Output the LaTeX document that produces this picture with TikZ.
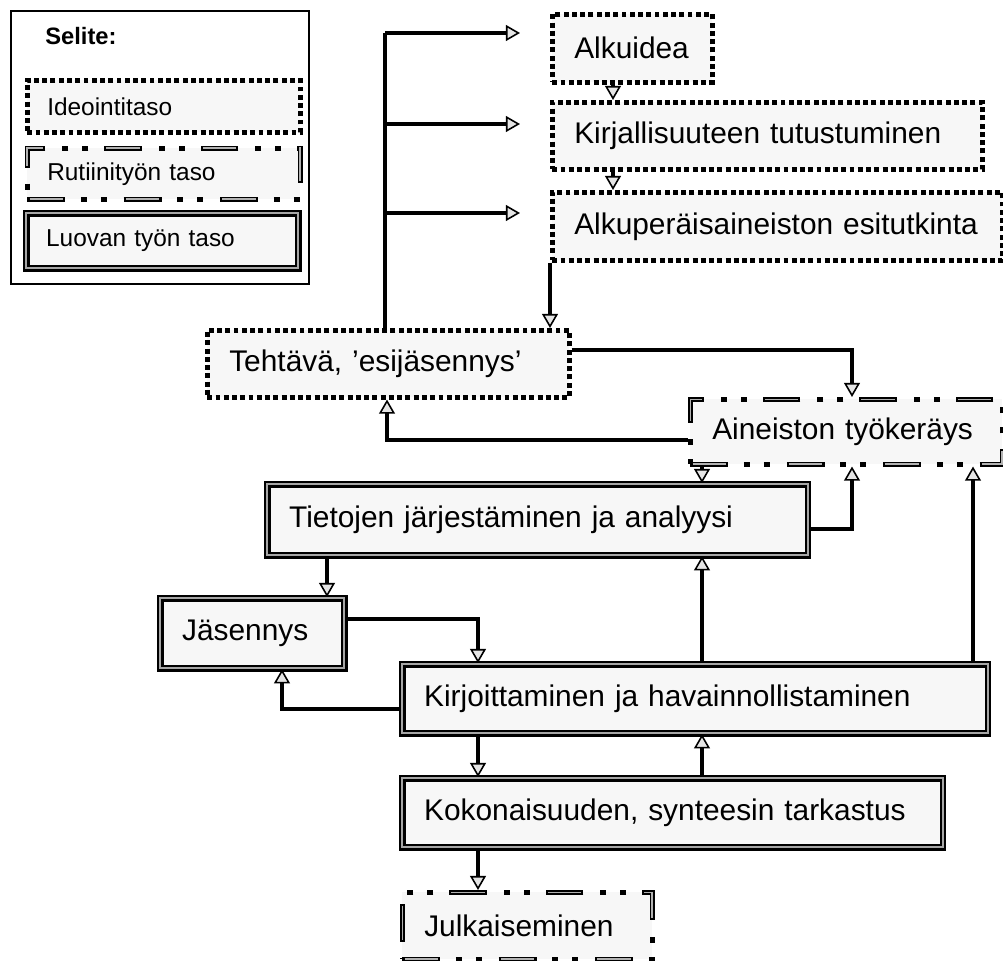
\documentclass[tikz,border=0pt]{standalone}
\usepackage{fontspec}
\setmainfont{Liberation Sans}
\usepackage{tikz}
\usetikzlibrary{arrows.meta}

\tikzset{
	laatikko/.style={anchor=north west, fill=black!3, inner xsep=0.44cm, align=left, font=\fontsize{17}{20}\selectfont},
	ideataso/.style={laatikko, draw, line width=2.6pt, dash pattern=on 2.8pt off 1.9pt},
	rutiinitaso/.style={laatikko, draw, line width=2.6pt, dash pattern=on 21.5pt off 9pt on 3.4pt off 8pt on 3.4pt off 9.6pt,
		postaction={draw=black!30, line width=0.9pt, dash pattern=on 0pt off 1.3pt on 18.9pt off 34.7pt}},
	luovataso/.style={laatikko, draw, line width=1.3pt, double=black!35, double distance=1.3pt},
	selitys/.style={inner xsep=0.4cm, font=\fontsize{13.9}{16}\selectfont},
	yhteys/.style={line width=2.4pt},
	nuoli/.style={yhteys, -{Triangle[length=8pt, width=9pt, fill=black!10, line width=0.9pt]}}
}

\begin{document}
\begin{tikzpicture}[x=0.02cm, y=-0.02cm]
	\path[fill=white, use as bounding box] (0,0) rectangle (1003,960);
%selite
	\node[draw, line width=1pt, anchor=north west, minimum width=5.96cm, minimum height=5.46cm] (selite) at (10,10) {};
	\node[anchor=west, inner sep=0pt, font=\bfseries\fontsize{13.5}{16}\selectfont] (otsikko) at (45,36) {Selite:};
	\node[ideataso, selitys, minimum width=5.46cm, minimum height=1.04cm, text width=4.66cm] (ide) at (25,78) {Ideointitaso};
	\node[rutiinitaso, selitys, minimum width=5.46cm, minimum height=1.02cm, text width=4.66cm] (rut) at (25,146) {Rutiinityön taso};
	\node[luovataso, selitys, minimum width=5.44cm, minimum height=1.1cm, text width=4.64cm] (luo) at (25,212) {Luovan työn taso};
%laatikot
	\node[ideataso, minimum width=3.2cm, minimum height=1.36cm, text width=2.32cm] (alkuidea) at (550,12) {Alkuidea};
	\node[ideataso, minimum width=8.6cm, minimum height=1.34cm, text width=7.72cm] (kirj) at (550,100) {Kirjallisuuteen tutustuminen};
	\node[ideataso, minimum width=9cm, minimum height=1.36cm, text width=8.12cm] (alkuper) at (550,190) {Alkuperäisaineiston esitutkinta};
	\node[ideataso, minimum width=7.24cm, minimum height=1.34cm, text width=6.36cm] (tehtava) at (205,328) {Tehtävä, 'esijäsennys'};
	\node[rutiinitaso, minimum width=6.24cm, minimum height=1.3cm, text width=5.36cm] (aineisto) at (688,397) {Aineiston työkeräys};
	\node[luovataso, minimum width=10.82cm, minimum height=1.42cm, text width=9.94cm] (tietojen) at (266,483) {Tietojen järjestäminen ja analyysi};
	\node[luovataso, minimum width=3.68cm, minimum height=1.4cm, text width=2.8cm] (jasennys) at (159,597) {Jäsennys};
	\node[luovataso, minimum width=11.72cm, minimum height=1.38cm, text width=10.84cm] (kirjoit) at (401,663) {Kirjoittaminen ja havainnollistaminen};
	\node[luovataso, minimum width=10.82cm, minimum height=1.38cm, text width=9.94cm] (koko) at (401,777) {Kokonaisuuden, synteesin tarkastus};
	\node[rutiinitaso, minimum width=5cm, minimum height=1.34cm, text width=4.12cm] (julkaisu) at (400,890) {Julkaiseminen};
%taitekohdat
	\coordinate (h1) at (385,33);
	\coordinate (h2) at (385,124);
	\coordinate (h3) at (385,213);
	\coordinate (v1) at (613,0);
	\coordinate (p1) at (852,350);
	\coordinate (p2) at (387,440);
	\coordinate (s1) at (702,0);
	\coordinate (p4) at (852,529);
	\coordinate (s2) at (973,0);
	\coordinate (s3) at (327,0);
	\coordinate (p6) at (478,619);
	\coordinate (p7) at (282,709);
	\coordinate (s4) at (478,0);
%yhteydet
	\draw[yhteys] (tehtava.north -| h1) -- (h1);
	\draw[nuoli, shorten >=0.6cm] (h1) -- (h1 -| alkuidea.west);
	\draw[nuoli, shorten >=0.6cm] (h2) -- (h2 -| kirj.west);
	\draw[nuoli, shorten >=0.6cm] (h3) -- (h3 -| alkuper.west);
	\draw[nuoli] (alkuidea.south -| v1) -- (kirj.north -| v1);
	\draw[nuoli] (kirj.south -| v1) -- (alkuper.north -| v1);
	\draw[nuoli] (alkuper.south west) -- (alkuper.south west |- tehtava.north);
	\draw[nuoli] (p1 -| tehtava.east) -- (p1) -- (p1 |- aineisto.north);
	\draw[nuoli] (p2 -| aineisto.west) -- (p2) -- (p2 |- tehtava.south);
	\draw[nuoli] (aineisto.south -| s1) -- (tietojen.north -| s1);
	\draw[nuoli] (p4 -| tietojen.east) -- (p4) -- (p4 |- aineisto.south);
	\draw[nuoli] (kirjoit.north -| s2) -- (aineisto.south -| s2);
	\draw[nuoli] (kirjoit.north -| s1) -- (tietojen.south -| s1);
	\draw[nuoli] (tietojen.south -| s3) -- (jasennys.north -| s3);
	\draw[nuoli] (p6 -| jasennys.east) -- (p6) -- (p6 |- kirjoit.north);
	\draw[nuoli] (p7 -| kirjoit.west) -- (p7) -- (p7 |- jasennys.south);
	\draw[nuoli] (kirjoit.south -| s4) -- (koko.north -| s4);
	\draw[nuoli] (koko.north -| s1) -- (kirjoit.south -| s1);
	\draw[nuoli] (koko.south -| s4) -- (julkaisu.north -| s4);
\end{tikzpicture}
\end{document}
